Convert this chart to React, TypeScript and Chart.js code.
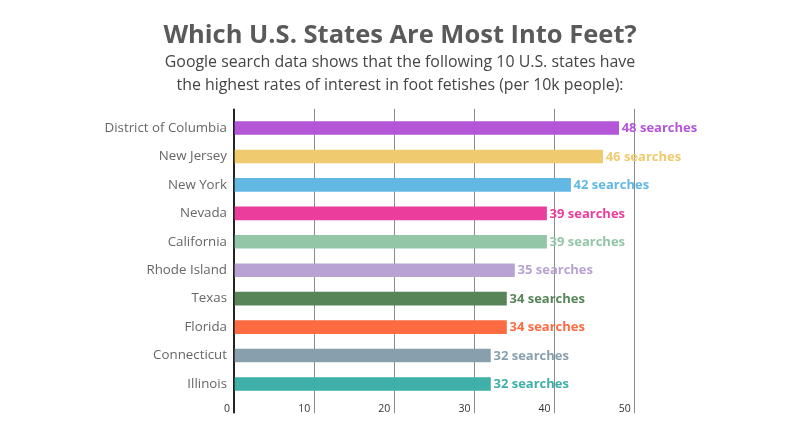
import React, { useEffect, useRef } from "react";
import { Chart, registerables } from "chart.js";

Chart.register(...registerables);

const TITLE = "Which U.S. States Are Most Into Feet?";
const SUBTITLE = [
  "Google search data shows that the following 10 U.S. states have",
  "the highest rates of interest in foot fetishes (per 10k people):",
];
const states = [
  "District of Columbia",
  "New Jersey",
  "New York",
  "Nevada",
  "California",
  "Rhode Island",
  "Texas",
  "Florida",
  "Connecticut",
  "Illinois",
];
const searches = [48, 46, 42, 39, 39, 35, 34, 34, 32, 32];
const barColors = [
  "#b556d9",
  "#efca6f",
  "#63b8e3",
  "#ea3d9c",
  "#93c5a7",
  "#b8a2d3",
  "#578557",
  "#fc6b42",
  "#88a0ae",
  "#3eb0a7",
];
const xTicksMax = 50;
const xStep = 10;

const FONT = "'Open Sans', sans-serif";

const valueLabels = {
  id: "valueLabels",
  afterDatasetsDraw(chart: any) {
    const ctx = chart.ctx;
    const meta = chart.getDatasetMeta(0);
    ctx.save();
    ctx.font = `bold 13px ${FONT}`;
    ctx.textAlign = "left";
    ctx.textBaseline = "middle";
    meta.data.forEach((bar: any, i: number) => {
      ctx.fillStyle = barColors[i];
      ctx.fillText(`${searches[i]} searches`, bar.x + 3, bar.y + 0.5);
    });
    ctx.restore();
  },
};

const gridColor = (c: any) => (c.tick && c.tick.value === 0 ? "#222222" : "#8c8c8c");
const gridWidth = (c: any) => (c.tick && c.tick.value === 0 ? 2 : 1);

export default function App() {
  const ref = useRef<HTMLCanvasElement>(null);
  useEffect(() => {
    if (!ref.current) return;
    const chart = new Chart(ref.current, {
      type: "bar",
      data: {
        labels: states,
        datasets: [
          {
            data: searches,
            backgroundColor: barColors,
            borderWidth: 0,
            barThickness: 13,
          },
        ],
      },
      options: {
        indexAxis: "y",
        animation: false,
        responsive: true,
        maintainAspectRatio: false,
        layout: { padding: { top: 0, left: 0, right: 0, bottom: 21.8 } },
        plugins: {
          legend: { display: false },
          tooltip: { enabled: false },
          title: {
            display: true,
            text: TITLE,
            color: "#5a5a5a",
            font: { family: FONT, size: 25.5, weight: "bold", lineHeight: "30px" },
            padding: { top: 20.5, bottom: 0 },
          },
          subtitle: {
            display: true,
            text: SUBTITLE,
            color: "#444444",
            font: { family: FONT, size: 15.9, weight: "normal", lineHeight: "23px" },
            padding: { top: 0, bottom: 12.3 },
          },
        },
        scales: {
          x: {
            type: "linear",
            position: "bottom",
            min: 0,
            max: xTicksMax,
            border: { display: false },
            grid: { color: gridColor, lineWidth: gridWidth, tickLength: 15 },
            ticks: {
              stepSize: xStep,
              align: "end",
              labelOffset: -4,
              padding: -10,
              color: "#333333",
              font: { family: FONT, size: 10.5 },
            },
            afterFit: (s: any) => {
              s.height = 20;
            },
          },
          x2: {
            type: "linear",
            position: "top",
            min: 0,
            max: xTicksMax,
            border: { display: false },
            grid: { color: gridColor, lineWidth: gridWidth, tickLength: 5, drawOnChartArea: false },
            ticks: { stepSize: xStep, display: false },
            afterFit: (s: any) => {
              s.height = 5;
            },
          },
          y: {
            border: { display: false },
            grid: { display: false, drawTicks: false },
            ticks: {
              padding: 7,
              color: "#666666",
              font: { family: FONT, size: 13.3 },
            },
            afterFit: (s: any) => {
              s.width = 234;
            },
          },
          y2: {
            type: "linear",
            position: "right",
            min: 0,
            max: 1,
            border: { display: false },
            grid: { display: false, drawTicks: false },
            ticks: { display: false },
            afterFit: (s: any) => {
              s.width = 165.3;
            },
          },
        },
      },
      plugins: [valueLabels],
    });
    return () => chart.destroy();
  }, []);
  return (
    <div style={{ position: "absolute", left: 0, top: 0, width: 800, height: 440, background: "#fff" }}>
      <canvas ref={ref} />
    </div>
  );
}
